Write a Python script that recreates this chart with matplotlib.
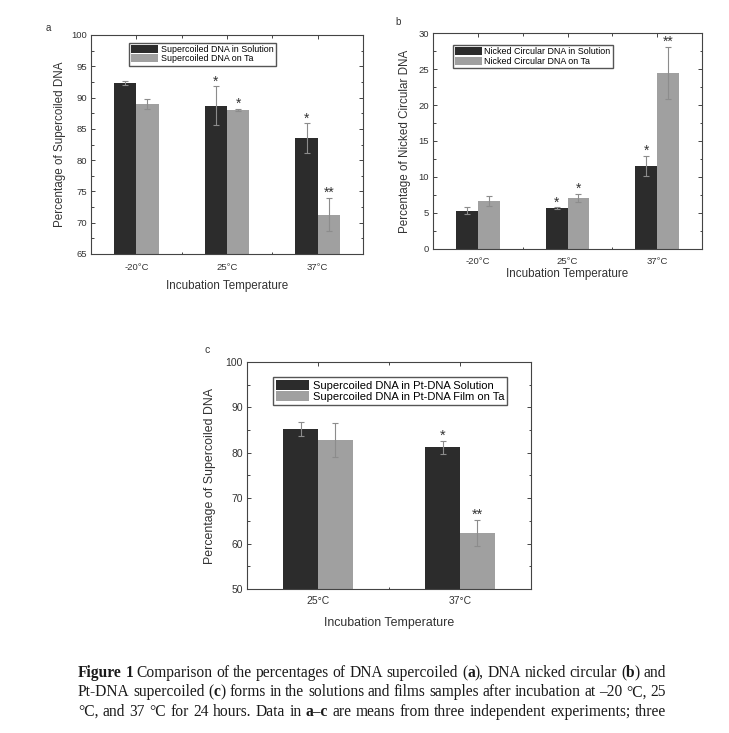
import matplotlib
matplotlib.use("Agg")
import matplotlib.pyplot as plt
from matplotlib.ticker import MultipleLocator, FixedLocator

plt.rcParams['font.family'] = ['Liberation Sans', 'DejaVu Sans']

W, H = 729, 733
DARK = '#2c2c2c'
LIGHT = '#a0a0a0'
ERR = '#8c8c8c'
TXT = '#333333'

# panel a
temps_a = ['-20°C', '25°C', '37°C']
sol_a = [92.3, 88.7, 83.5]
sol_a_err = [0.3, 3.1, 2.4]
ta_a = [89.0, 88.0, 71.3]
ta_a_err = [0.8, 0.2, 2.7]
stars_sol_a = ['', '*', '*']
stars_ta_a = ['', '*', '**']

# panel b
temps_b = ['-20°C', '25°C', '37°C']
sol_b = [5.3, 5.7, 11.5]
sol_b_err = [0.5, 0.1, 1.4]
ta_b = [6.7, 7.1, 24.5]
ta_b_err = [0.7, 0.6, 3.6]
stars_sol_b = ['', '*', '*']
stars_ta_b = ['', '*', '**']

# panel c
temps_c = ['25°C', '37°C']
sol_c = [85.3, 81.2]
sol_c_err = [1.5, 1.4]
ta_c = [82.8, 62.4]
ta_c_err = [3.7, 2.9]
stars_sol_c = ['', '*']
stars_ta_c = ['', '**']

# caption, *...* = bold
caption = [
    "*Figure* *1* Comparison of the percentages of DNA supercoiled (*a*), DNA nicked circular (*b*) and",
    "Pt-DNA supercoiled (*c*) forms in the solutions and films samples after incubation at –20 °C, 25",
    "°C, and 37 °C for 24 hours. Data in *a–c* are means from three independent experiments; three",
]


def box(l, r, t, b):
    return [l / W, (H - b) / H, (r - l) / W, (b - t) / H]


def panel(rect, temps, sol, sol_err, ta, ta_err, s1, s2, ylim, ystep,
          ylabel, labels, tfs, lfs, legfs, leg_at, xpad, xlpad, ylpad):
    ax = fig.add_axes(rect)
    n = len(temps)
    x = list(range(1, n + 1))
    w = 0.245
    xd = [v - w / 2 for v in x]
    xl = [v + w / 2 for v in x]
    ax.bar(xd, sol, w, color=DARK, label=labels[0], zorder=2)
    ax.bar(xl, ta, w, color=LIGHT, label=labels[1], zorder=2)
    ax.errorbar(xd, sol, yerr=sol_err, fmt='none', ecolor=ERR, elinewidth=0.8,
                capsize=2, capthick=0.8, zorder=3)
    ax.errorbar(xl, ta, yerr=ta_err, fmt='none', ecolor=ERR, elinewidth=0.8,
                capsize=2, capthick=0.8, zorder=3)
    # significance marks just above the error caps
    for xs, vals, errs, marks in ((xd, sol, sol_err, s1), (xl, ta, ta_err, s2)):
        for i in range(n):
            if marks[i]:
                ax.annotate(marks[i], (xs[i], vals[i] + errs[i]), xytext=(0, 3.5),
                            textcoords='offset points', ha='center', va='center',
                            fontsize=tfs + 3, color=TXT)
    ax.set_xlim(0.5, n + 0.5)
    ax.set_ylim(*ylim)
    ax.set_xticks(x)
    ax.set_xticklabels(temps, fontsize=tfs)
    ax.xaxis.set_minor_locator(FixedLocator([v + 0.5 for v in x[:-1]]))
    ax.yaxis.set_major_locator(MultipleLocator(ystep))
    ax.yaxis.set_minor_locator(MultipleLocator(ystep / 2))
    ax.tick_params(axis='y', labelsize=tfs)
    ax.tick_params(which='both', direction='in', top=True, right=True,
                   color='#444444', width=0.7, labelcolor=TXT, pad=3)
    ax.tick_params(axis='x', which='major', pad=xpad)
    ax.tick_params(which='major', length=3)
    ax.tick_params(which='minor', length=1.8)
    for s in ax.spines.values():
        s.set_color('#444444')
        s.set_linewidth(0.8)
    ax.set_xlabel('Incubation Temperature', fontsize=lfs, color=TXT, labelpad=xlpad)
    ax.set_ylabel(ylabel, fontsize=lfs, color=TXT, labelpad=ylpad)
    ax.legend(loc='upper left', bbox_to_anchor=leg_at, fontsize=legfs,
              frameon=True, fancybox=False, edgecolor='#555555', framealpha=1,
              borderaxespad=0, borderpad=0.25, labelspacing=0.05,
              handlelength=3.0, handleheight=1.0, handletextpad=0.3)
    return ax


fig = plt.figure(figsize=(W / 100, H / 100), dpi=100)

panel(box(91, 363, 35, 254), temps_a, sol_a, sol_a_err, ta_a, ta_a_err,
      stars_sol_a, stars_ta_a, (65, 100), 5, 'Percentage of Supercoiled DNA',
      ['Supercoiled DNA in Solution', 'Supercoiled DNA on Ta'],
      6.8, 8.4, 6.4, (0.14, 0.965), 6.5, 6, 4)

panel(box(433, 702, 33, 249), temps_b, sol_b, sol_b_err, ta_b, ta_b_err,
      stars_sol_b, stars_ta_b, (0, 30), 5, 'Percentage of Nicked Circular DNA',
      ['Nicked Circular DNA in Solution', 'Nicked Circular DNA on Ta'],
      6.8, 8.4, 6.4, (0.074, 0.944), 5.5, 2, 5)

panel(box(247, 531, 362, 589), temps_c, sol_c, sol_c_err, ta_c, ta_c_err,
      stars_sol_c, stars_ta_c, (50, 100), 10, 'Percentage of Supercoiled DNA',
      ['Supercoiled DNA in Pt-DNA Solution', 'Supercoiled DNA in Pt-DNA Film on Ta'],
      7.5, 8.9, 8.0, (0.092, 0.934), 5, 8, 7)

fig.text(48 / W, 1 - 28 / H, 'a', fontsize=7, color=TXT, ha='center', va='center')
fig.text(398 / W, 1 - 22 / H, 'b', fontsize=7, color=TXT, ha='center', va='center')
fig.text(207 / W, 1 - 350 / H, 'c', fontsize=7.5, color=TXT, ha='center', va='center')

# justified caption
renderer = fig.canvas.get_renderer()
x0, x1 = 78, 666
for i, line in enumerate(caption):
    ypix = 673 + 19.5 * i
    words = []
    for word in line.split(' '):
        parts = word.split('*')
        segs = [(p, k % 2 == 1) for k, p in enumerate(parts) if p]
        texts = []
        for p, bold in segs:
            t = fig.text(0, 1 - ypix / H, p, fontsize=11.2, family='Liberation Serif',
                         fontweight='bold' if bold else 'normal',
                         ha='left', va='center', color='#1a1a1a')
            texts.append(t)
        words.append(texts)
    widths = []
    for texts in words:
        widths.append([t.get_window_extent(renderer).width for t in texts])
    total = sum(sum(ws) for ws in widths)
    gap = (x1 - x0 - total) / (len(words) - 1)
    xp = x0
    for texts, ws in zip(words, widths):
        for t, wd in zip(texts, ws):
            t.set_x(xp / W)
            xp += wd
        xp += gap

fig.savefig('out.png', dpi=100)
